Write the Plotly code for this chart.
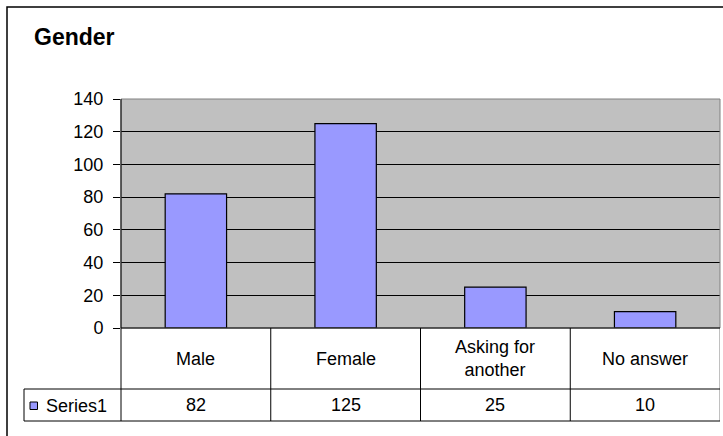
import plotly.graph_objects as go

# Survey responses by gender
categories = ["Male", "Female", "Asking for<br>another", "No answer"]
values = [82, 125, 25, 10]
series_name = "Series1"
y_ticks = [0, 20, 40, 60, 80, 100, 120, 140]

W, H = 723, 436
FONT = "Arial, Liberation Sans, sans-serif"
TEXT_SIZE = 18


def px(x):
    return x / W


def py(y):
    return 1 - y / H


plot_left, plot_right = 121, 720
plot_top, plot_bottom = 99, 328
row1_bottom, row2_bottom = 389, 421
legend_left = 24

fig = go.Figure()
fig.add_trace(go.Bar(
    x=list(range(len(categories))),
    y=values,
    marker=dict(color="#9999FF", line=dict(color="black", width=1.2)),
    name=series_name,
    showlegend=False,
))

shapes = []
# outer chart frame (right and bottom edges fall outside the page)
shapes.append(dict(type="rect", xref="paper", yref="paper",
                   x0=px(7), x1=px(W + 5), y0=py(7), y1=py(H + 5),
                   line=dict(color="black", width=1.5), layer="below"))
# plot area frame (top/right in grey)
shapes.append(dict(type="rect", xref="paper", yref="paper",
                   x0=px(plot_left), x1=px(plot_right), y0=py(plot_bottom), y1=py(plot_top),
                   line=dict(color="#808080", width=1), layer="above"))
# y axis line extended through the category row
shapes.append(dict(type="line", xref="paper", yref="paper",
                   x0=px(plot_left), x1=px(plot_left), y0=py(plot_top), y1=py(row2_bottom),
                   line=dict(color="black", width=1)))
# data table column dividers
n = len(categories)
for i in range(1, n + 1):
    shapes.append(dict(type="line", xref="x", yref="paper",
                       x0=i - 0.5, x1=i - 0.5, y0=py(plot_bottom), y1=py(row2_bottom),
                       line=dict(color="black" if i < n else "#808080", width=1)))
# data table row lines
shapes.append(dict(type="line", xref="paper", yref="paper",
                   x0=px(plot_left), x1=px(plot_right), y0=py(plot_bottom), y1=py(plot_bottom),
                   line=dict(color="black", width=1)))
for yy in (row1_bottom, row2_bottom):
    shapes.append(dict(type="line", xref="paper", yref="paper",
                       x0=px(legend_left), x1=px(plot_right), y0=py(yy), y1=py(yy),
                       line=dict(color="black", width=1)))
shapes.append(dict(type="line", xref="paper", yref="paper",
                   x0=px(legend_left), x1=px(legend_left), y0=py(row1_bottom), y1=py(row2_bottom),
                   line=dict(color="black", width=1)))
# legend key
shapes.append(dict(type="rect", xref="paper", yref="paper",
                   x0=px(30), x1=px(37.5), y0=py(409.5), y1=py(402),
                   fillcolor="#9999FF", line=dict(color="black", width=1)))

annotations = [
    dict(text="<b>Gender</b>", xref="paper", yref="paper", x=px(32), y=py(37),
         xanchor="left", yanchor="middle", showarrow=False,
         font=dict(family=FONT, size=23, color="black")),
    dict(text=series_name, xref="paper", yref="paper", x=px(44), y=py(405.5),
         xanchor="left", yanchor="middle", showarrow=False,
         font=dict(family=FONT, size=TEXT_SIZE, color="black")),
]
for i, (c, v) in enumerate(zip(categories, values)):
    annotations.append(dict(text=c, xref="x", yref="paper", x=i, y=py((plot_bottom + row1_bottom) / 2),
                            xanchor="center", yanchor="middle", showarrow=False,
                            font=dict(family=FONT, size=TEXT_SIZE, color="black")))
    annotations.append(dict(text=str(v), xref="x", yref="paper", x=i, y=py((row1_bottom + row2_bottom) / 2),
                            xanchor="center", yanchor="middle", showarrow=False,
                            font=dict(family=FONT, size=TEXT_SIZE, color="black")))

fig.update_layout(
    width=W, height=H,
    autosize=False,
    margin=dict(l=0, r=0, t=0, b=0, pad=0, autoexpand=False),
    paper_bgcolor="white",
    plot_bgcolor="#C0C0C0",
    bargap=0.59,
    showlegend=False,
    shapes=shapes,
    annotations=annotations,
    xaxis=dict(domain=[px(plot_left), px(plot_right)], range=[-0.5, n - 0.5],
               showticklabels=False, ticks="", showgrid=False, zeroline=False,
               showline=False, fixedrange=True, automargin=False),
    yaxis=dict(domain=[py(plot_bottom), py(plot_top)], range=[0, 140],
               tickvals=y_ticks, ticks="outside", ticklen=7, tickcolor="black",
               ticklabelstandoff=6,
               showgrid=True, gridcolor="black", gridwidth=1,
               zeroline=False, showline=False, automargin=False,
               tickfont=dict(family=FONT, size=TEXT_SIZE, color="black"), fixedrange=True),
)

# page without body margin or scrollbars, so the figure fills the window exactly
page_css = ("document.body.style.margin='0';document.body.style.padding='0';"
            "document.body.style.overflow='hidden';"
            "document.documentElement.style.overflow='hidden';")
fig.write_html("out.html", post_script=page_css, config={"displayModeBar": False})
